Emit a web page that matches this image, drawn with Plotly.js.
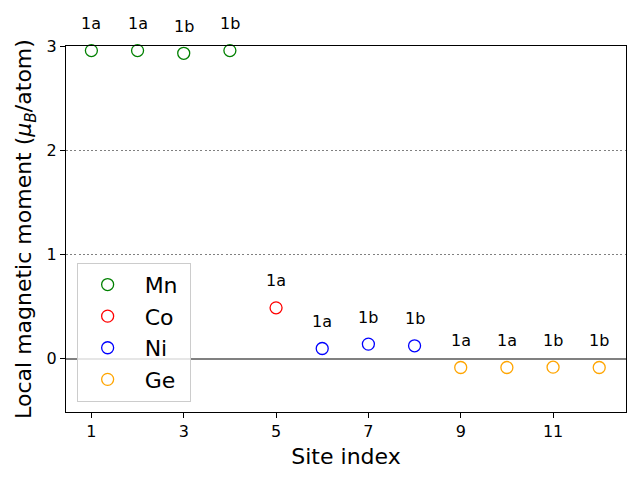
<!DOCTYPE html>
<html>
<head>
<meta charset="utf-8">
<script src="https://cdn.plot.ly/plotly-3.0.1.min.js"></script>
<style>html,body{margin:0;padding:0;background:#fff;}#chart{width:640px;height:480px;}</style>
</head>
<body>
<div id="chart"></div>
<script>
const mnSites = [1, 2, 3, 4];
const mnMoments = [2.956, 2.956, 2.93, 2.956];
const mnLabels = ['1a', '1a', '1b', '1b'];
const coSites = [5];
const coMoments = [0.489];
const coLabels = ['1a'];
const niSites = [6, 7, 8];
const niMoments = [0.099, 0.141, 0.125];
const niLabels = ['1a', '1b', '1b'];
const geSites = [9, 10, 11, 12];
const geMoments = [-0.083, -0.083, -0.08, -0.083];
const geLabels = ['1a', '1a', '1b', '1b'];
const xTicks = [1, 3, 5, 7, 9, 11];
const yTicks = [0, 1, 2, 3];

const groups = [
  {name: 'Mn', x: mnSites, y: mnMoments, labels: mnLabels, color: '#008000'},
  {name: 'Co', x: coSites, y: coMoments, labels: coLabels, color: '#ff0000'},
  {name: 'Ni', x: niSites, y: niMoments, labels: niLabels, color: '#0000ff'},
  {name: 'Ge', x: geSites, y: geMoments, labels: geLabels, color: '#ffa500'}
];

const font = 'DejaVu Sans, sans-serif';
const traces = groups.map(g => ({
  type: 'scatter', mode: 'markers', name: '\u00a0' + g.name + '\u00a0', x: g.x, y: g.y,
  cliponaxis: false,
  marker: {symbol: 'circle-open', size: 12, color: g.color, line: {width: 1.3, color: g.color}}
}));

// labels anchored at each point, text shifted upward by a fixed pixel offset
const annotations = [];
groups.forEach(g => {
  g.x.forEach((xv, i) => {
    annotations.push({x: xv, y: g.y[i], xref: 'x', yref: 'y', text: g.labels[i],
      showarrow: true, arrowcolor: 'rgba(0,0,0,0)', arrowwidth: 0.1, ax: 0, ay: -27,
      xanchor: 'center', yanchor: 'middle',
      font: {family: font, size: 16, color: '#000'}});
  });
});

const layout = {
  width: 640, height: 480,
  margin: {l: 66, r: 14, t: 46, b: 68},
  paper_bgcolor: '#fff', plot_bgcolor: '#fff',
  font: {family: font, size: 16, color: '#000'},
  showlegend: true,
  legend: {x: 0.019, y: 0.028, xanchor: 'left', yanchor: 'bottom',
    bgcolor: 'rgba(255,255,255,0.8)', bordercolor: '#cccccc', borderwidth: 1,
    font: {family: font, size: 22, color: '#000'}, itemwidth: 50, tracegroupgap: 0},
  xaxis: {range: [0.45, 12.58], tickvals: xTicks, ticktext: xTicks.map(String),
    showline: true, linecolor: '#000', linewidth: 1, mirror: true,
    ticks: 'outside', ticklen: 5, tickcolor: '#000', showgrid: false, zeroline: false,
    tickfont: {family: font, size: 16},
    title: {text: 'Site index', font: {family: font, size: 22}, standoff: 8}},
  yaxis: {range: [-0.51, 3.0], tickvals: yTicks, ticktext: yTicks.map(String),
    showline: true, linecolor: '#000', linewidth: 1, mirror: true,
    ticks: 'outside', ticklen: 5, tickcolor: '#000',
    showgrid: true, gridcolor: '#808080', griddash: '2px,2.2px', gridwidth: 1.5,
    zeroline: true, zerolinecolor: '#808080', zerolinewidth: 2,
    tickfont: {family: font, size: 16},
    title: {text: 'Local magnetic moment (<i>μ</i><sub><i>B</i></sub>/atom)', font: {family: font, size: 22}, standoff: 8}},
  annotations: annotations
};

Plotly.newPlot('chart', traces, layout, {displayModeBar: false, staticPlot: true});
</script>
</body>
</html>
